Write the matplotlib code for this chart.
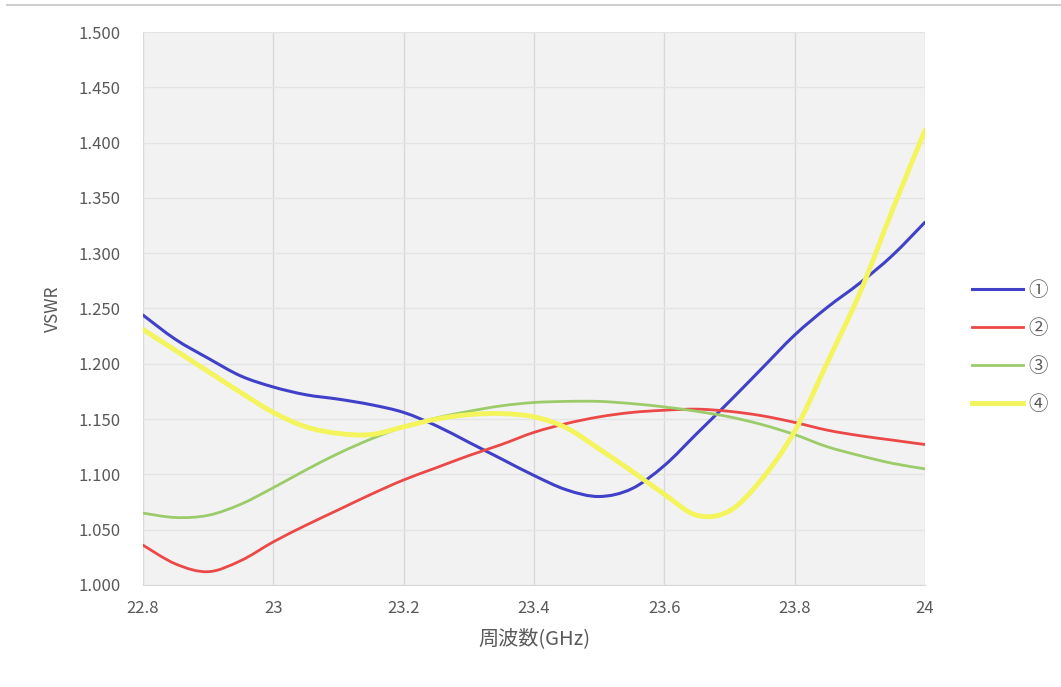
import numpy as np
import matplotlib
matplotlib.use("Agg")
import matplotlib.pyplot as plt
from matplotlib.lines import Line2D
from matplotlib.path import Path
from matplotlib.patches import PathPatch
from matplotlib.ticker import FormatStrFormatter, FuncFormatter

plt.rcParams['font.family'] = ['Noto Sans CJK JP', 'DejaVu Sans']


freq = [22.8, 22.85, 22.9, 22.95, 23.0, 23.05, 23.1, 23.15, 23.2, 23.25,
        23.3, 23.35, 23.4, 23.45, 23.5, 23.55, 23.6, 23.65, 23.7, 23.75,
        23.8, 23.85, 23.9, 23.95, 24.0]

vswr_1 = [1.244, 1.222, 1.205, 1.189, 1.179, 1.172, 1.168, 1.163, 1.156, 1.144,
          1.129, 1.114, 1.099, 1.086, 1.080, 1.087, 1.108, 1.137, 1.166, 1.196,
          1.226, 1.251, 1.273, 1.298, 1.328]
vswr_2 = [1.036, 1.019, 1.012, 1.022, 1.039, 1.054, 1.068, 1.082, 1.095, 1.106,
          1.117, 1.127, 1.138, 1.146, 1.152, 1.156, 1.158, 1.159, 1.157, 1.153,
          1.147, 1.140, 1.135, 1.131, 1.127]
vswr_3 = [1.065, 1.061, 1.063, 1.073, 1.088, 1.104, 1.119, 1.132, 1.143, 1.151,
          1.157, 1.162, 1.165, 1.166, 1.166, 1.164, 1.161, 1.157, 1.152, 1.145,
          1.136, 1.125, 1.117, 1.110, 1.105]
vswr_4 = [1.231, 1.212, 1.193, 1.174, 1.156, 1.143, 1.137, 1.136, 1.143, 1.150,
          1.154, 1.155, 1.152, 1.142, 1.123, 1.103, 1.082, 1.063, 1.067, 1.096,
          1.139, 1.201, 1.264, 1.339, 1.411]

labels = ['①', '②', '③', '④']
x_ticks = [22.8, 23.0, 23.2, 23.4, 23.6, 23.8, 24.0]
y_ticks = [1.000, 1.050, 1.100, 1.150, 1.200, 1.250, 1.300, 1.350, 1.400, 1.450, 1.500]


def smooth_path(xs, ys):
    # bezier segments through the points (like a "smoothed line" in a spreadsheet)
    pts = np.column_stack([xs, ys])
    n = len(pts)
    verts = [pts[0]]
    codes = [Path.MOVETO]
    for i in range(n - 1):
        p0 = pts[max(i - 1, 0)]
        p1 = pts[i]
        p2 = pts[i + 1]
        p3 = pts[min(i + 2, n - 1)]
        c1 = p1 + (p2 - p0) / 6.0
        c2 = p2 - (p3 - p1) / 6.0
        verts += [c1, c2, p2]
        codes += [Path.CURVE4] * 3
    return Path(verts, codes)


text_color = '#595959'
series = [(vswr_1, '#4040c8', 2.2), (vswr_2, '#ec4848', 2.0),
          (vswr_3, '#9ccb6a', 2.0), (vswr_4, '#f4f45c', 3.5)]

fig = plt.figure(figsize=(10.61, 6.87), dpi=100)
ax = fig.add_axes([0.1348, 0.1485, 0.7370, 0.8049])
ax.set_facecolor('#f2f2f2')

handles = []
for (vals, col, lw), lab in zip(series, labels):
    patch = PathPatch(smooth_path(freq, vals), facecolor='none', edgecolor=col,
                      lw=lw, zorder=3, capstyle='round', joinstyle='round')
    ax.add_patch(patch)
    handles.append(Line2D([], [], color=col, lw=lw, label=lab))

ax.set_xlim(22.8, 24.0)
ax.set_ylim(1.0, 1.5)
ax.set_xticks(x_ticks)
ax.set_yticks(y_ticks)
ax.xaxis.set_major_formatter(FuncFormatter(lambda v, p: '%g' % round(v, 1)))
ax.yaxis.set_major_formatter(FormatStrFormatter('%.3f'))
ax.tick_params(length=0, labelsize=12, colors=text_color)
ax.tick_params(axis='y', pad=16)
ax.tick_params(axis='x', pad=11)

ax.grid(axis='x', color='#d9d9d9', lw=1.0)
ax.grid(axis='y', color='#e4e4e4', lw=1.0)
ax.set_axisbelow(True)
for s in ax.spines.values():
    s.set_visible(False)
ax.spines['bottom'].set_visible(True)
ax.spines['bottom'].set_color('#d9d9d9')

ax.set_xlabel('周波数(GHz)', fontsize=14.5, color=text_color, labelpad=8)
ax.set_ylabel('VSWR', fontsize=12.5, color=text_color, labelpad=12)

leg = fig.legend(handles=handles, loc='center left', bbox_to_anchor=(0.9, 0.494),
                 frameon=False, fontsize=14, handlelength=2.6, labelspacing=0.88,
                 handletextpad=0.3)
for t in leg.get_texts():
    t.set_color(text_color)

fig.add_artist(Line2D([0.007, 1.0], [0.993, 0.993], transform=fig.transFigure,
                      color='#d0d0d0', lw=1.5))

fig.savefig('out.png', dpi=100)
